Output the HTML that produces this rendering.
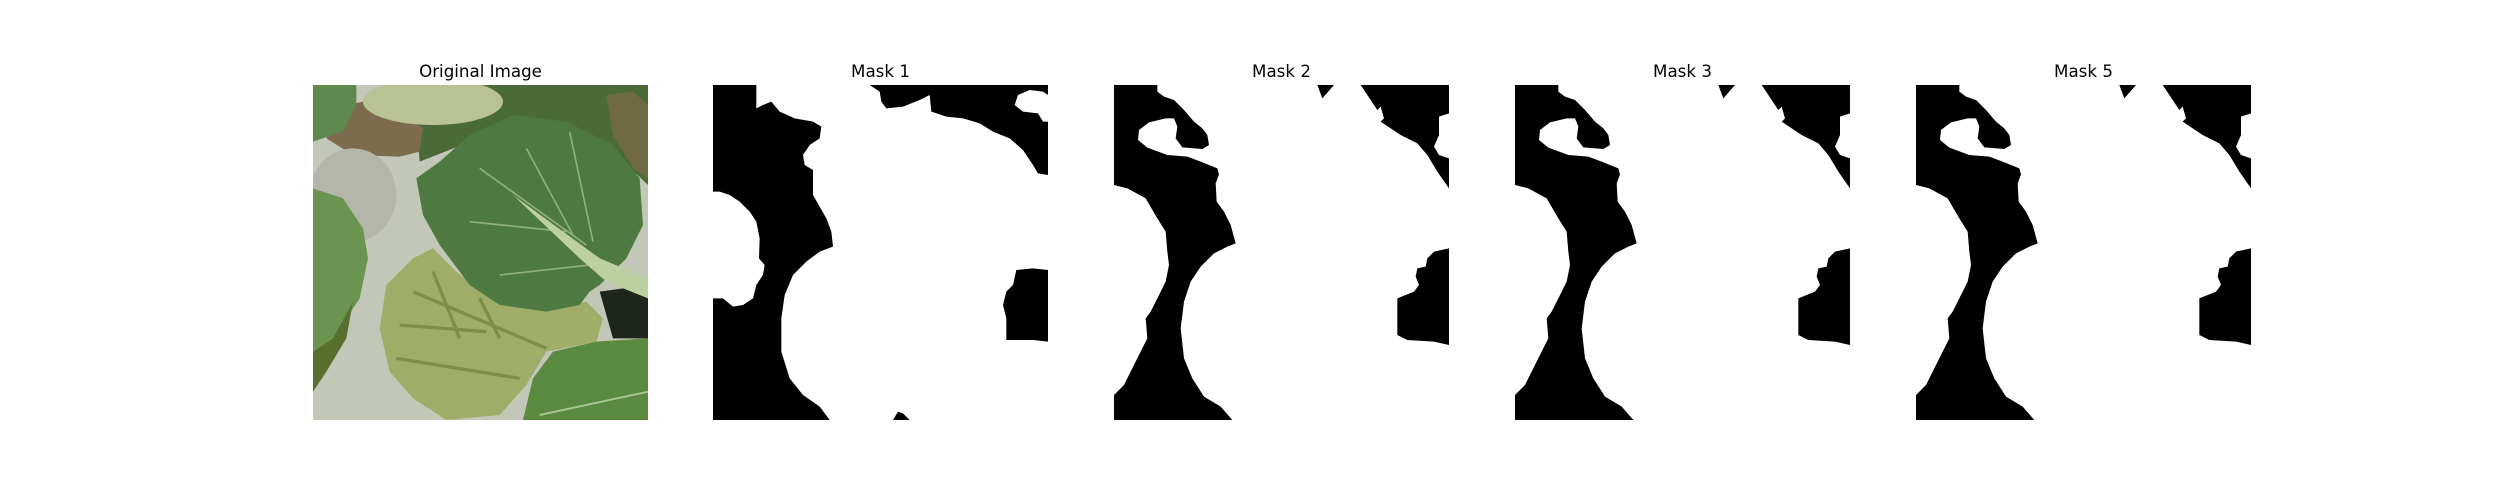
<!DOCTYPE html>
<html>
<head>
<meta charset="utf-8">
<style>
html,body{margin:0;padding:0;background:#fff;}
svg{display:block;}
text{font-family:"DejaVu Sans","Liberation Sans",sans-serif;font-size:16.7px;fill:#000;}
</style>
</head>
<body>
<svg width="2500" height="500" viewBox="0 0 2500 500">
  <rect x="0" y="0" width="2500" height="500" fill="#fff"/>

  <!-- Panel 1: original image -->
  <text x="480.5" y="77" text-anchor="middle">Original Image</text>
  <svg x="313" y="85" width="335" height="335" viewBox="0 0 1005 1005">
    <rect width="1005" height="1005" fill="#c3c7b8"/>
    <path d="M300,0 L1005,0 L1005,300 L900,200 L600,120 L320,230 Z" fill="#4a6a38"/>
    <path d="M40,160 L100,60 L200,40 L330,130 L320,200 L260,215 L120,210 Z" fill="#7e6a4c"/>
    <ellipse cx="360" cy="50" rx="210" ry="70" fill="#b8c293"/>
    <path d="M880,30 L960,20 L1005,60 L1005,280 L960,250 L900,150 Z" fill="#6f6a40"/>
    <path d="M0,0 L130,0 L130,60 L90,140 L0,170 Z" fill="#5d8a4c"/>
    <ellipse cx="120" cy="330" rx="130" ry="140" fill="#b3b6a8"/>
    <path d="M0,310 L90,340 L150,430 L165,520 L140,640 L60,760 L0,800 Z" fill="#6b9450"/>
    <path d="M0,800 L60,760 L120,650 L100,760 L40,860 L0,920 Z" fill="#58702f"/>
    <path d="M860,620 L1005,600 L1005,760 L900,760 Z" fill="#1e261c"/>
    <path d="M220,600 L300,520 L360,490 L430,560 L560,660 L700,680 L820,650 L870,700 L850,770 L700,800 L640,900 L560,990 L400,1005 L300,940 L230,860 L200,730 Z" fill="#9fad68"/>
    <g stroke="#6f8040" stroke-width="10" fill="none" opacity="0.7">
      <path d="M300,620 L700,790"/><path d="M260,720 L520,740"/><path d="M250,820 L620,880"/><path d="M360,560 L440,760"/><path d="M500,640 L560,760"/>
    </g>
    <path d="M310,280 L380,230 L470,150 L600,90 L760,110 L900,180 L980,280 L990,420 L940,520 L860,600 L830,620 L800,660 L700,680 L560,660 L470,600 L380,480 L330,390 Z" fill="#4e7a41"/>
    <g stroke="#8fb07a" stroke-width="5" fill="none">
      <path d="M500,250 L820,480"/><path d="M640,190 L780,450"/><path d="M470,410 L760,440"/><path d="M560,570 L830,540"/><path d="M770,140 L840,470"/>
    </g>
    <path d="M600,330 L860,520 L1005,580 L1005,640 L880,590 L800,520 Z" fill="#bcd0a2"/>
    <path d="M630,1005 L660,880 L720,800 L850,770 L1005,760 L1005,1005 Z" fill="#5a8a40"/>
    <path d="M680,990 L1005,920" stroke="#a8c490" stroke-width="6"/>
  </svg>

  <!-- Panel 2: Mask 1 -->
  <text x="880.5" y="77" text-anchor="middle">Mask 1</text>
  <svg x="713" y="85" width="335" height="335" viewBox="0 0 1005 1005">
    <rect width="1005" height="1005" fill="#fff"/>
    <path d="M0,0 L130,0 L130,70 L150,60 L175,50 L200,80 L245,100 L300,110 L325,125 L320,160 L290,180 L270,210 L275,240 L300,255 L300,330 L320,365 L340,400 L355,440 L360,485 L320,500 L280,530 L240,570 L215,630 L205,700 L205,800 L230,880 L270,930 L320,965 L350,1005 L0,1005 L0,640 L10,640 L30,640 L60,665 L90,660 L120,640 L130,600 L150,570 L155,540 L138,520 L140,460 L130,410 L110,380 L80,350 L50,330 L20,320 L0,320 Z" fill="#000"/>
    <path d="M470,0 L500,20 L505,50 L520,70 L570,65 L620,45 L650,30 L655,80 L700,95 L750,100 L800,115 L840,140 L890,160 L930,195 L960,240 L975,265 L1005,270 L1005,110 L990,110 L975,85 L930,80 L905,60 L915,30 L950,15 L990,20 L1005,30 L1005,0 Z" fill="#000"/>
    <path d="M1005,555 L960,550 L910,555 L900,600 L880,620 L870,660 L880,700 L880,765 L960,765 L1005,770 Z" fill="#000"/>
    <path d="M540,1005 L555,980 L570,985 L590,1005 Z" fill="#000"/>
  </svg>

  <!-- Panel 3: Mask 2 -->
  <text x="1281.5" y="77" text-anchor="middle">Mask 2</text>
  <svg x="1114" y="85" width="335" height="335" viewBox="0 0 1005 1005">
    <rect width="1005" height="1005" fill="#fff"/>
    <path d="M0,0 L130,0 L130,20 L150,35 L180,45 L210,75 L240,110 L265,130 L280,150 L285,180 L265,192 L205,187 L185,160 L190,125 L180,100 L155,100 L105,112 L75,135 L72,165 L100,188 L160,210 L220,215 L260,230 L310,250 L315,268 L305,295 L308,350 L330,380 L350,420 L365,475 L340,485 L300,505 L260,545 L230,590 L210,650 L200,730 L210,820 L235,880 L270,935 L320,965 L355,1005 L0,1005 L0,930 L30,900 L50,860 L80,800 L100,760 L95,700 L110,680 L130,640 L155,590 L165,540 L160,500 L155,440 L130,400 L95,340 L40,310 L0,300 Z" fill="#000"/>
    <path d="M610,0 L625,40 L660,0 Z" fill="#000"/>
    <path d="M740,0 L760,30 L780,60 L790,75 L800,65 L810,100 L800,110 L860,150 L910,175 L940,210 L970,260 L1005,310 L1005,220 L975,210 L960,185 L975,150 L975,95 L1005,85 L1005,0 Z" fill="#000"/>
    <path d="M1005,490 L960,500 L940,520 L935,545 L910,550 L905,575 L915,600 L900,620 L850,640 L850,750 L880,765 L960,770 L1005,780 Z" fill="#000"/>
  </svg>

  <!-- Panel 4: Mask 3 -->
  <text x="1682.5" y="77" text-anchor="middle">Mask 3</text>
  <svg x="1515" y="85" width="335" height="335" viewBox="0 0 1005 1005">
    <rect width="1005" height="1005" fill="#fff"/>
    <path d="M0,0 L130,0 L130,20 L150,35 L180,45 L210,75 L240,110 L265,130 L280,150 L285,180 L265,192 L205,187 L185,160 L190,125 L180,100 L155,100 L105,112 L75,135 L72,165 L100,188 L160,210 L220,215 L260,230 L310,250 L315,268 L305,295 L308,350 L330,380 L350,420 L365,475 L340,485 L300,505 L260,545 L230,590 L210,650 L200,730 L210,820 L235,880 L270,935 L320,965 L355,1005 L0,1005 L0,930 L30,900 L50,860 L80,800 L100,760 L95,700 L110,680 L130,640 L155,590 L165,540 L160,500 L155,440 L130,400 L95,340 L40,310 L0,300 Z" fill="#000"/>
    <path d="M610,0 L625,40 L660,0 Z" fill="#000"/>
    <path d="M740,0 L760,30 L780,60 L790,75 L800,65 L810,100 L800,110 L860,150 L910,175 L940,210 L970,260 L1005,310 L1005,220 L975,210 L960,185 L975,150 L975,95 L1005,85 L1005,0 Z" fill="#000"/>
    <path d="M1005,490 L960,500 L940,520 L935,545 L910,550 L905,575 L915,600 L900,620 L850,640 L850,750 L880,765 L960,770 L1005,780 Z" fill="#000"/>
  </svg>

  <!-- Panel 5: Mask 5 -->
  <text x="2083.5" y="77" text-anchor="middle">Mask 5</text>
  <svg x="1916" y="85" width="335" height="335" viewBox="0 0 1005 1005">
    <rect width="1005" height="1005" fill="#fff"/>
    <path d="M0,0 L130,0 L130,20 L150,35 L180,45 L210,75 L240,110 L265,130 L280,150 L285,180 L265,192 L205,187 L185,160 L190,125 L180,100 L155,100 L105,112 L75,135 L72,165 L100,188 L160,210 L220,215 L260,230 L310,250 L315,268 L305,295 L308,350 L330,380 L350,420 L365,475 L340,485 L300,505 L260,545 L230,590 L210,650 L200,730 L210,820 L235,880 L270,935 L320,965 L355,1005 L0,1005 L0,930 L30,900 L50,860 L80,800 L100,760 L95,700 L110,680 L130,640 L155,590 L165,540 L160,500 L155,440 L130,400 L95,340 L40,310 L0,300 Z" fill="#000"/>
    <path d="M610,0 L625,40 L660,0 Z" fill="#000"/>
    <path d="M740,0 L760,30 L780,60 L790,75 L800,65 L810,100 L800,110 L860,150 L910,175 L940,210 L970,260 L1005,310 L1005,220 L975,210 L960,185 L975,150 L975,95 L1005,85 L1005,0 Z" fill="#000"/>
    <path d="M1005,490 L960,500 L940,520 L935,545 L910,550 L905,575 L915,600 L900,620 L850,640 L850,750 L880,765 L960,770 L1005,780 Z" fill="#000"/>
  </svg>
</svg>
</body>
</html>
